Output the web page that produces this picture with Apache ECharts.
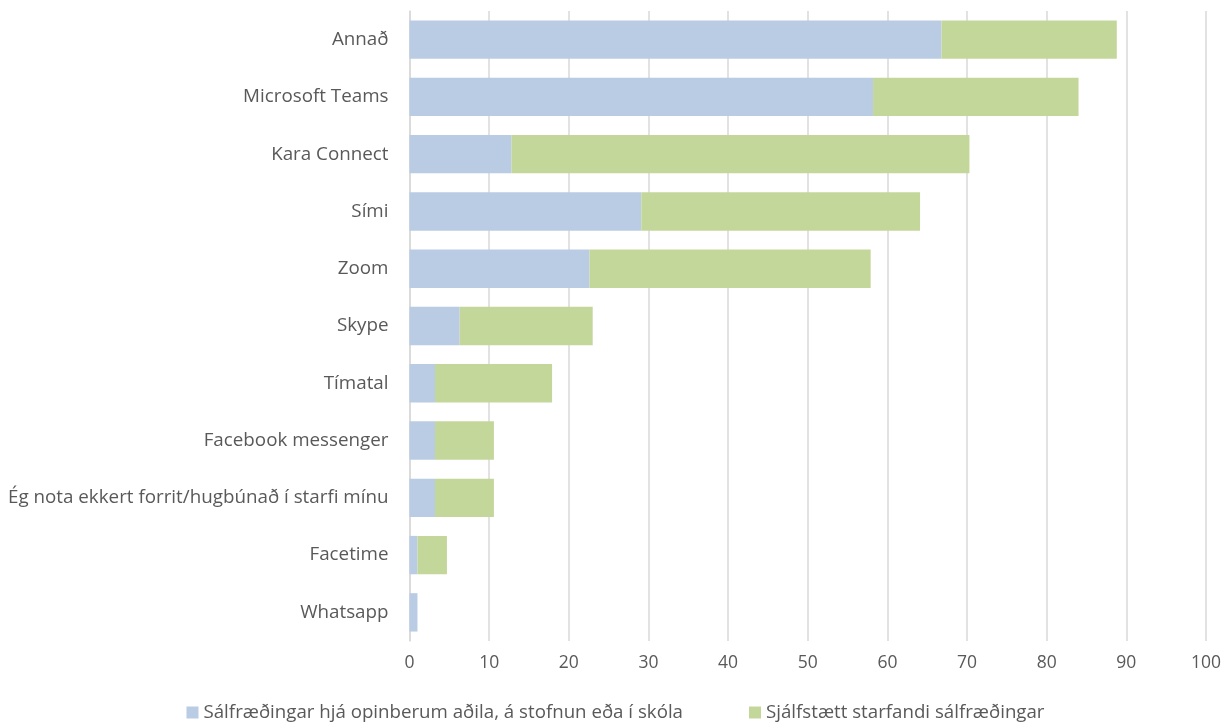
<!DOCTYPE html>
<html>
<head>
<meta charset="utf-8">
<script src="https://cdn.jsdelivr.net/npm/echarts@6/dist/echarts.min.js"></script>
<style>
html,body{margin:0;padding:0;background:#fff;}
#chart{width:1231px;height:726px;}
</style>
</head>
<body>
<div id="chart"></div>
<script>
// Categories listed bottom-to-top (ECharts category y-axis starts at bottom)
const categories = ["Whatsapp","Facetime","Ég nota ekkert forrit/hugbúnað í starfi mínu","Facebook messenger","Tímatal","Skype","Zoom","Sími","Kara Connect","Microsoft Teams","Annað"];
const seriesNames = ["Sálfræðingar hjá opinberum aðila, á stofnun eða í skóla","Sjálfstætt starfandi sálfræðingar"];
const publicValues = [1.0, 1.0, 3.2, 3.2, 3.2, 6.3, 22.6, 29.1, 12.8, 58.2, 66.8];
const privateValues = [0, 3.7, 7.4, 7.4, 14.7, 16.7, 35.3, 35.0, 57.5, 25.8, 22.0];
const xTicks = [0,10,20,30,40,50,60,70,80,90,100];

const chart = echarts.init(document.getElementById('chart'));
const font = "'Open Sans', 'Liberation Sans', sans-serif";
chart.setOption({
  animation: false,
  textStyle: {fontFamily: font},
  grid: {left: 409.5, right: 25, top: 11, bottom: 85, containLabel: false},
  legend: {
    bottom: -1, left: 'center',
    itemWidth: 12, itemHeight: 12, itemGap: 66,
    icon: 'rect',
    textStyle: {fontSize: 18.7, color: '#595959', fontFamily: font},
    data: seriesNames
  },
  xAxis: {
    type: 'value', min: 0, max: 100, interval: 10,
    axisLine: {show: false}, axisTick: {show: false},
    splitLine: {lineStyle: {color: '#d9d9d9', width: 1.5}},
    axisLabel: {fontSize: 17.5, color: '#595959', margin: 13,
      formatter: v => xTicks.includes(v) ? String(v) : ''}
  },
  yAxis: {
    type: 'category', data: categories,
    axisLine: {show: true, lineStyle: {color: '#d9d9d9', width: 1.5}},
    axisTick: {show: false},
    axisLabel: {fontSize: 18.8, color: '#595959', margin: 21}
  },
  series: [
    {name: seriesNames[0], type: 'bar', stack: 'a', data: publicValues, barCategoryGap: '33%',
     itemStyle: {color: '#b9cce4'}},
    {name: seriesNames[1], type: 'bar', stack: 'a', data: privateValues, barCategoryGap: '33%',
     itemStyle: {color: '#c4d79b'}}
  ]
});
</script>
</body>
</html>
